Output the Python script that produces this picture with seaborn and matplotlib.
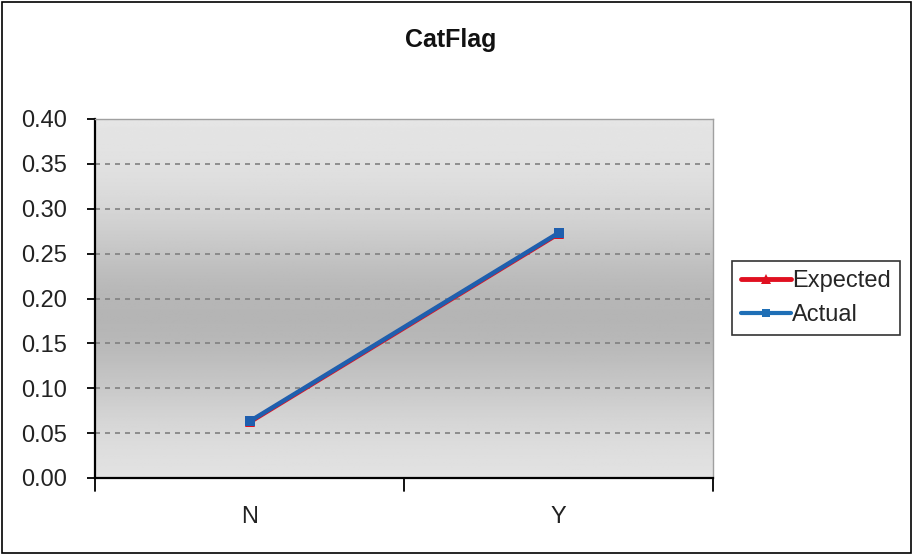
import numpy as np
import pandas as pd
import matplotlib
matplotlib.use("Agg")
import matplotlib.pyplot as plt
from matplotlib.patches import Rectangle
from matplotlib.lines import Line2D
import seaborn as sns

categories = ["N", "Y"]
expected = [0.062, 0.272]
actual = [0.063, 0.273]
yticks = [0.00, 0.05, 0.10, 0.15, 0.20, 0.25, 0.30, 0.35, 0.40]

sns.set_style("white")
plt.rcParams["font.family"] = ["Liberation Sans", "DejaVu Sans"]

df = pd.DataFrame({
    "cat": categories * 2,
    "value": expected + actual,
    "series": ["Expected"] * len(categories) + ["Actual"] * len(categories),
})

fig = plt.figure(figsize=(9.14, 5.55), dpi=100)
ax = fig.add_axes([95 / 914, 1 - 478 / 555, 618 / 914, 359 / 555])

# vertical grey gradient: light at top and bottom, darker through the middle
t = np.linspace(0, 1, 256)
shade = 0.90 - 0.19 * np.exp(-((t - 0.55) / 0.28) ** 2)
grad = np.repeat(shade[:, None], 2, axis=1)
ax.imshow(grad, cmap="gray", vmin=0, vmax=1, extent=[0, 1, 0, 1],
          transform=ax.transAxes, aspect="auto", origin="upper", zorder=0)

sns.lineplot(data=df, x="cat", y="value", hue="series", style="series",
             palette={"Expected": "#e01020", "Actual": "#1f5fae"},
             markers={"Expected": "^", "Actual": "s"},
             dashes=False, markersize=7, linewidth=3.2,
             markeredgewidth=0, ax=ax, zorder=3, legend=False)

ax.set_xlim(-0.5, 1.5)
ax.set_ylim(0, 0.40)
ax.set_yticks(yticks)
ax.set_yticklabels([f"{v:.2f}" for v in yticks], fontsize=17, color="#222222")
ax.set_xticks([0, 1])
ax.set_xticklabels(categories, fontsize=17, color="#222222")
ax.tick_params(axis="x", length=0, pad=20)
ax.tick_params(axis="y", length=6, width=1.3, direction="out", color="black", left=True, pad=14)
# category boundary ticks on the x axis
for xb in [-0.5, 0.5, 1.5]:
    ax.plot([xb, xb], [0, -0.014], color="black", lw=1.3, clip_on=False, zorder=5)

for y in yticks[1:-1]:
    ax.axhline(y, color="#808080", lw=1.2, ls=(0, (3, 3)), zorder=1)

ax.set_xlabel("")
ax.set_ylabel("")
for side in ["left", "bottom"]:
    ax.spines[side].set_color("black")
    ax.spines[side].set_linewidth(1.6)
for side in ["top", "right"]:
    ax.spines[side].set_color("#a0a0a0")
    ax.spines[side].set_linewidth(1.0)

fig.text(451 / 914, 1 - 40 / 555, "CatFlag", ha="center", va="center",
         fontsize=18, fontweight="bold", color="#111111")

handles = [
    Line2D([], [], color="#e01020", lw=3.5, marker="^", markersize=7, markeredgewidth=0),
    Line2D([], [], color="#1f6fb6", lw=3.0, marker="s", markersize=6, markeredgewidth=0),
]
leg = fig.legend(handles, ["Expected", "Actual"], loc="center left",
                 bbox_to_anchor=(732 / 914, 1 - 298 / 555), fontsize=17,
                 frameon=True, fancybox=False, handlelength=2.1,
                 handletextpad=0.05, labelspacing=0.5, borderpad=0.4,
                 borderaxespad=0)
leg.get_frame().set_edgecolor("black")
leg.get_frame().set_linewidth(1.2)

fig.patches.append(Rectangle((0.002, 0.003), 0.995, 0.993, transform=fig.transFigure,
                             fill=False, edgecolor="black", lw=1.2))

fig.savefig("out.png", dpi=100, facecolor="white")
